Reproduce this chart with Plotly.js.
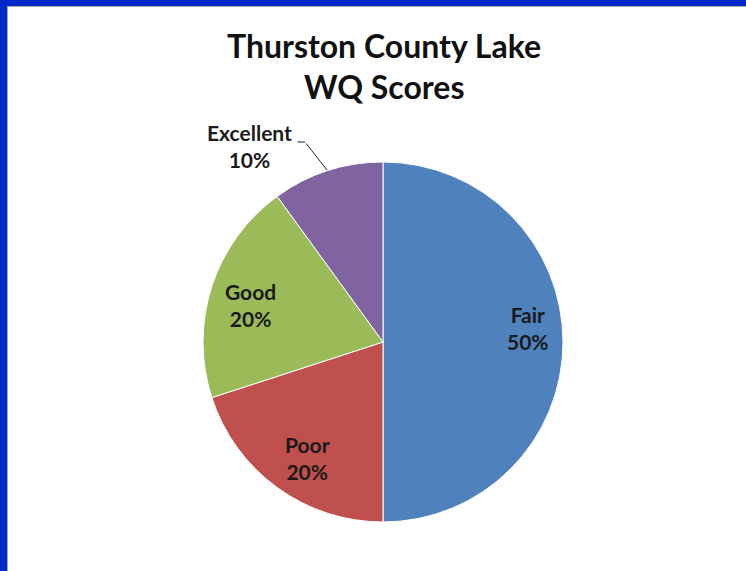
<!DOCTYPE html>
<html>
<head>
<meta charset="utf-8">
<script src="https://cdn.plot.ly/plotly-3.0.1.min.js"></script>
<style>
html,body{margin:0;padding:0;width:746px;height:571px;overflow:hidden;background:#0029C9;}
#frame{position:absolute;left:7px;top:6px;width:739px;height:565px;background:#fff;border-left:1px solid #a8aaa8;border-top:1px solid #a8aaa8;box-sizing:border-box;}
#chart{position:absolute;left:0;top:0;width:738px;height:564px;}
</style>
</head>
<body>
<div id="frame"><div id="chart"></div></div>
<script>
const categories = ['Fair', 'Poor', 'Good', 'Excellent'];
const values = [50, 20, 20, 10];
const colors = ['#4F81BD', '#C0504D', '#9BBB59', '#8064A2'];
const titleLines = ['Thurston County Lake', 'WQ Scores'];

const W = 738, H = 564;
const cx = 375, cy = 335, R = 180;
const px = v => (cx + v) / W;
const py = v => 1 - (cy + v) / H;

const trace = {
  type: 'pie',
  labels: categories,
  values: values,
  sort: false,
  direction: 'clockwise',
  rotation: 0,
  marker: {colors: colors, line: {color: '#ffffff', width: 1}},
  textinfo: 'none',
  hoverinfo: 'label+percent',
  domain: {x: [px(-R), px(R)], y: [py(R), py(-R)]}
};

const fontFam = 'Lato, "Open Sans", sans-serif';
// Label positions (pixel offsets from pie centre, layout only)
const labelPos = [[145, -14], [-76, 116], [-133, -37], [-134, -196]];
const total = values.reduce((a, b) => a + b, 0);
const annotations = categories.map((c, i) => ({
  xref: 'paper', yref: 'paper',
  x: px(labelPos[i][0]), y: py(labelPos[i][1]),
  xanchor: 'center', yanchor: 'middle',
  text: c + '<br>' + Math.round(values[i] / total * 100) + '%',
  showarrow: false,
  font: {family: fontFam, size: 21, color: '#1a1a1a', weight: 'bold'},
  align: 'center'
}));
// leader line for the small outside label
annotations.push({
  xref: 'paper', yref: 'paper', axref: 'paper', ayref: 'paper',
  x: px(-56), y: py(-172), ax: px(-78), ay: py(-200),
  text: '', showarrow: true, arrowhead: 0, arrowwidth: 1, arrowcolor: '#222', standoff: 0, startstandoff: 0
});
annotations.push({
  xref: 'paper', yref: 'paper', axref: 'paper', ayref: 'paper',
  x: px(-78), y: py(-200), ax: px(-87), ay: py(-200),
  text: '', showarrow: true, arrowhead: 0, arrowwidth: 1, arrowcolor: '#222', standoff: 0, startstandoff: 0
});
// title lines
const titleY = [38, 79];
titleLines.forEach((t, i) => annotations.push({
  xref: 'paper', yref: 'paper',
  x: px(1), y: 1 - titleY[i] / H,
  xanchor: 'center', yanchor: 'middle',
  text: t, showarrow: false,
  font: {family: fontFam, size: 32, color: '#111', weight: 'bold'}
}));

const layout = {
  width: W, height: H,
  margin: {l: 0, r: 0, t: 0, b: 0},
  paper_bgcolor: '#ffffff',
  showlegend: false,
  annotations: annotations
};

Plotly.newPlot('chart', [trace], layout, {displayModeBar: false, staticPlot: true});
</script>
</body>
</html>
